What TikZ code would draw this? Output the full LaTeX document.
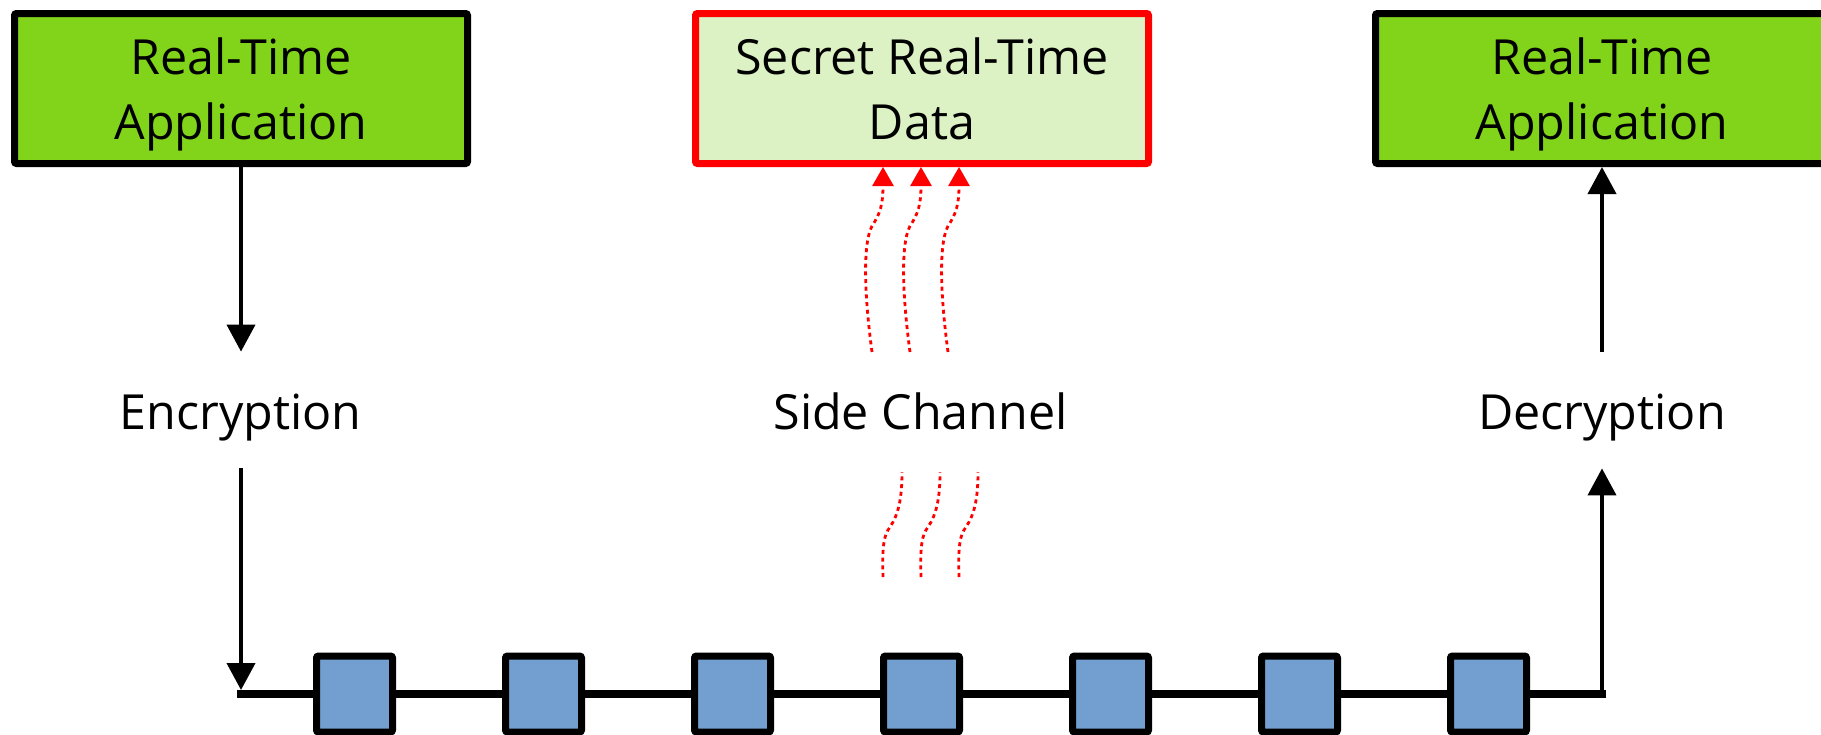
\documentclass[tikz,border=0pt]{standalone}
\usepackage{fontspec}
\setmainfont{Open Sans}
\usetikzlibrary{arrows.meta,calc}
\definecolor{limegreen}{HTML}{81D41A}
\definecolor{palelime}{HTML}{DDF2C4}
\definecolor{skyblue}{HTML}{729FCF}
\tikzset{
  appbox/.style={draw=black, line width=3.5pt, fill=limegreen, minimum width=226.5pt, minimum height=75pt, rounded corners=1pt, inner sep=0pt},
  secretbox/.style={appbox, draw=red, fill=palelime},
  boxtext/.style={anchor=base, align=center, font=\fontsize{24.2}{32.5}\selectfont, inner sep=0pt},
  stage/.style={minimum height=58pt, text height=19pt, text depth=0pt, inner sep=0pt, font=\fontsize{24.2}{30}\selectfont},
  flow/.style={line width=2pt, -{Triangle[width=14pt,length=13.5pt]}},
  bus/.style={line width=4pt},
  packet/.style={draw=black, line width=3.5pt, fill=skyblue, minimum size=38pt, inner sep=0pt, rounded corners=1pt},
  leak/.style={red, line width=1.4pt, dash pattern=on 2pt off 1.85pt},
  leakarrow/.style={leak, -{Triangle[width=10.5pt,length=9.5pt]}}
}
\begin{document}
\begin{tikzpicture}[x=0.5pt,y=-0.5pt]
\clip (0,0) rectangle (1821,734);
% boxes
\node[appbox] (src) at (241,88.5) {};
\node[boxtext] (srcT) at (241,139) {Real-Time\\Application};
\node[secretbox] (sec) at (922,88.5) {};
\node[boxtext] (secT) at (922,139) {Secret Real-Time\\Data};
\node[appbox] (dst) at (1602,88.5) {};
\node[boxtext] (dstT) at (1602,139) {Real-Time\\Application};
% stages
\node[stage] (enc) at (240.5,410) {Encryption};
\node[stage] (side) at (920.5,410) {Side Channel};
\node[stage] (dec) at (1602,410) {Decryption};
% bus and packets
\coordinate (busL) at (237,694);
\coordinate (busR) at (1606,694);
\foreach \i in {1,...,7} {
  \node[packet] (p\i) at ({354.5+189*(\i-1)},694) {};
}
\draw[bus] (busL) -- (p1.west);
\foreach \i/\j in {1/2,2/3,3/4,4/5,5/6,6/7} {
  \draw[bus] (p\i.east) -- (p\j.west);
}
\draw[bus] (p7.east) -- (busR);
% flow arrows
\draw[flow] (src.south) -- (src.south |- enc.north);
\draw[flow] (enc.south -| src.south) -- ($(busL -| src.south)+(0,-4)$);
\draw[flow] (busR -| dst.south) -- (dst.south |- dec.south);
\draw[flow] (dst.south |- dec.north) -- (dst.south);
% side channel leaks
\foreach \d in {0,38,76} {
  \draw[leakarrow] (872+\d,352) .. controls (865+\d,300) and (862+\d,245) .. (872+\d,226)
     .. controls (880+\d,214) and (883+\d,205) .. ($(sec.south)+(\d-39,0)$);
  \draw[leak] (883+\d,577) .. controls (882+\d,545) and (884+\d,535) .. (890+\d,527)
     .. controls (898+\d,515) and (902+\d,500) .. (902+\d,472);
}
\end{tikzpicture}
\end{document}
